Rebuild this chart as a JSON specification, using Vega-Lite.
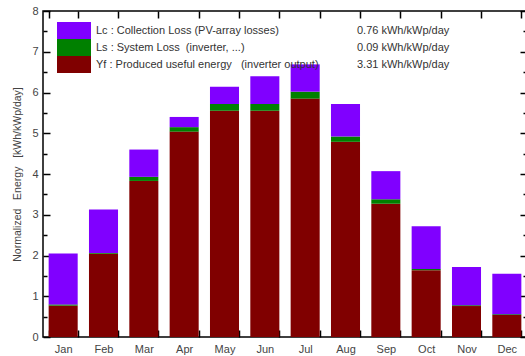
{
  "$schema": "https://vega.github.io/schema/vega-lite/v6.json",
  "width": 484,
  "height": 326,
  "autosize": {"type": "none"},
  "padding": {"left": 43, "top": 11, "right": 0, "bottom": 19},
  "background": "white",
  "config": {
    "view": {"stroke": "#000", "strokeWidth": 1.5},
    "font": "Liberation Sans",
    "axis": {
      "domain": false,
      "grid": false,
      "zindex": 1,
      "tickColor": "#000",
      "tickWidth": 1.5,
      "labelFont": "Liberation Sans",
      "labelFontSize": 11,
      "labelColor": "#444",
      "titleFont": "Liberation Sans",
      "titleFontSize": 10.5,
      "titleFontWeight": "normal",
      "titleColor": "#444"
    },
    "legend": {
      "title": null,
      "symbolType": "M-2,-1H2V1H-2Z",
      "symbolSize": 289,
      "symbolStrokeWidth": 0,
      "labelFont": "Liberation Sans",
      "labelFontSize": 11,
      "labelColor": "#333",
      "labelOffset": 13.5,
      "rowPadding": 0,
      "padding": 0,
      "labelLimit": 400
    }
  },
  "data": {
    "values": [
      {"month": "Jan", "comp": "Yf : Produced useful energy\u00a0\u00a0\u00a0(inverter output)", "avg": "3.31 kWh/kWp/day", "value": 0.77},
      {"month": "Jan", "comp": "Ls : System Loss\u00a0\u00a0(inverter, ...)", "avg": "0.09 kWh/kWp/day", "value": 0.03},
      {"month": "Jan", "comp": "Lc : Collection Loss (PV-array losses)", "avg": "0.76 kWh/kWp/day", "value": 1.25},
      {"month": "Feb", "comp": "Yf : Produced useful energy\u00a0\u00a0\u00a0(inverter output)", "avg": "3.31 kWh/kWp/day", "value": 2.04},
      {"month": "Feb", "comp": "Ls : System Loss\u00a0\u00a0(inverter, ...)", "avg": "0.09 kWh/kWp/day", "value": 0.02},
      {"month": "Feb", "comp": "Lc : Collection Loss (PV-array losses)", "avg": "0.76 kWh/kWp/day", "value": 1.07},
      {"month": "Mar", "comp": "Yf : Produced useful energy\u00a0\u00a0\u00a0(inverter output)", "avg": "3.31 kWh/kWp/day", "value": 3.83},
      {"month": "Mar", "comp": "Ls : System Loss\u00a0\u00a0(inverter, ...)", "avg": "0.09 kWh/kWp/day", "value": 0.10},
      {"month": "Mar", "comp": "Lc : Collection Loss (PV-array losses)", "avg": "0.76 kWh/kWp/day", "value": 0.67},
      {"month": "Apr", "comp": "Yf : Produced useful energy\u00a0\u00a0\u00a0(inverter output)", "avg": "3.31 kWh/kWp/day", "value": 5.04},
      {"month": "Apr", "comp": "Ls : System Loss\u00a0\u00a0(inverter, ...)", "avg": "0.09 kWh/kWp/day", "value": 0.11},
      {"month": "Apr", "comp": "Lc : Collection Loss (PV-array losses)", "avg": "0.76 kWh/kWp/day", "value": 0.25},
      {"month": "May", "comp": "Yf : Produced useful energy\u00a0\u00a0\u00a0(inverter output)", "avg": "3.31 kWh/kWp/day", "value": 5.55},
      {"month": "May", "comp": "Ls : System Loss\u00a0\u00a0(inverter, ...)", "avg": "0.09 kWh/kWp/day", "value": 0.17},
      {"month": "May", "comp": "Lc : Collection Loss (PV-array losses)", "avg": "0.76 kWh/kWp/day", "value": 0.42},
      {"month": "Jun", "comp": "Yf : Produced useful energy\u00a0\u00a0\u00a0(inverter output)", "avg": "3.31 kWh/kWp/day", "value": 5.55},
      {"month": "Jun", "comp": "Ls : System Loss\u00a0\u00a0(inverter, ...)", "avg": "0.09 kWh/kWp/day", "value": 0.17},
      {"month": "Jun", "comp": "Lc : Collection Loss (PV-array losses)", "avg": "0.76 kWh/kWp/day", "value": 0.68},
      {"month": "Jul", "comp": "Yf : Produced useful energy\u00a0\u00a0\u00a0(inverter output)", "avg": "3.31 kWh/kWp/day", "value": 5.85},
      {"month": "Jul", "comp": "Ls : System Loss\u00a0\u00a0(inverter, ...)", "avg": "0.09 kWh/kWp/day", "value": 0.17},
      {"month": "Jul", "comp": "Lc : Collection Loss (PV-array losses)", "avg": "0.76 kWh/kWp/day", "value": 0.67},
      {"month": "Aug", "comp": "Yf : Produced useful energy\u00a0\u00a0\u00a0(inverter output)", "avg": "3.31 kWh/kWp/day", "value": 4.79},
      {"month": "Aug", "comp": "Ls : System Loss\u00a0\u00a0(inverter, ...)", "avg": "0.09 kWh/kWp/day", "value": 0.13},
      {"month": "Aug", "comp": "Lc : Collection Loss (PV-array losses)", "avg": "0.76 kWh/kWp/day", "value": 0.80},
      {"month": "Sep", "comp": "Yf : Produced useful energy\u00a0\u00a0\u00a0(inverter output)", "avg": "3.31 kWh/kWp/day", "value": 3.27},
      {"month": "Sep", "comp": "Ls : System Loss\u00a0\u00a0(inverter, ...)", "avg": "0.09 kWh/kWp/day", "value": 0.11},
      {"month": "Sep", "comp": "Lc : Collection Loss (PV-array losses)", "avg": "0.76 kWh/kWp/day", "value": 0.69},
      {"month": "Oct", "comp": "Yf : Produced useful energy\u00a0\u00a0\u00a0(inverter output)", "avg": "3.31 kWh/kWp/day", "value": 1.64},
      {"month": "Oct", "comp": "Ls : System Loss\u00a0\u00a0(inverter, ...)", "avg": "0.09 kWh/kWp/day", "value": 0.03},
      {"month": "Oct", "comp": "Lc : Collection Loss (PV-array losses)", "avg": "0.76 kWh/kWp/day", "value": 1.05},
      {"month": "Nov", "comp": "Yf : Produced useful energy\u00a0\u00a0\u00a0(inverter output)", "avg": "3.31 kWh/kWp/day", "value": 0.76},
      {"month": "Nov", "comp": "Ls : System Loss\u00a0\u00a0(inverter, ...)", "avg": "0.09 kWh/kWp/day", "value": 0.02},
      {"month": "Nov", "comp": "Lc : Collection Loss (PV-array losses)", "avg": "0.76 kWh/kWp/day", "value": 0.94},
      {"month": "Dec", "comp": "Yf : Produced useful energy\u00a0\u00a0\u00a0(inverter output)", "avg": "3.31 kWh/kWp/day", "value": 0.54},
      {"month": "Dec", "comp": "Ls : System Loss\u00a0\u00a0(inverter, ...)", "avg": "0.09 kWh/kWp/day", "value": 0.02},
      {"month": "Dec", "comp": "Lc : Collection Loss (PV-array losses)", "avg": "0.76 kWh/kWp/day", "value": 0.99}
    ]
  },
  "layer": [
    {
      "mark": {"type": "bar"},
      "encoding": {
        "x": {
          "field": "month", "type": "ordinal",
          "sort": ["Jan","Feb","Mar","Apr","May","Jun","Jul","Aug","Sep","Oct","Nov","Dec"],
          "scale": {"paddingInner": 0.28, "paddingOuter": 0.14},
          "axis": {"orient": "bottom", "title": null, "labelAngle": 0, "tickBand": "extent", "tickSize": -7, "labelPadding": 13}
        },
        "y": {
          "field": "value", "type": "quantitative", "stack": "zero",
          "scale": {"domain": [0, 8], "nice": false},
          "axis": {"orient": "left", "values": [0,1,2,3,4,5,6,7,8], "tickSize": -7, "labelPadding": 12,
                   "title": "Normalized\u00a0\u00a0\u00a0Energy\u00a0\u00a0\u00a0[kWh/kWp/day]", "titlePadding": 9}
        },
        "color": {
          "field": "comp", "type": "nominal",
          "scale": {"domain": ["Lc : Collection Loss (PV-array losses)", "Ls : System Loss\u00a0\u00a0(inverter, ...)", "Yf : Produced useful energy\u00a0\u00a0\u00a0(inverter output)"],
                    "range": ["#8000ff", "#008000", "#800000"]},
          "legend": {"orient": "none", "legendX": 22.5, "legendY": 11}
        },
        "order": {"field": "comp", "sort": "descending"}
      }
    },
    {
      "mark": {"type": "bar", "opacity": 0},
      "encoding": {
        "x": {
          "field": "month", "type": "ordinal",
          "sort": ["Jan","Feb","Mar","Apr","May","Jun","Jul","Aug","Sep","Oct","Nov","Dec"],
          "axis": {"orient": "top", "title": null, "labels": false, "tickBand": "extent", "tickSize": -7}
        },
        "y": {
          "field": "value", "type": "quantitative", "stack": "zero",
          "axis": {"orient": "right", "title": null, "labels": false, "values": [0,1,2,3,4,5,6,7,8], "tickSize": -7}
        },
        "color": {
          "field": "avg", "type": "nominal",
          "scale": {"domain": ["0.76 kWh/kWp/day", "0.09 kWh/kWp/day", "3.31 kWh/kWp/day"], "range": ["#8000ff", "#008000", "#800000"]},
          "legend": {"orient": "none", "legendX": 283.5, "legendY": 11, "symbolOpacity": 0}
        },
        "order": {"field": "comp", "sort": "descending"}
      }
    },
    {
      "mark": {"type": "bar", "opacity": 0},
      "encoding": {
        "x": {"field": "month", "type": "ordinal", "sort": ["Jan","Feb","Mar","Apr","May","Jun","Jul","Aug","Sep","Oct","Nov","Dec"], "axis": null},
        "y": {
          "field": "value", "type": "quantitative", "stack": "zero",
          "axis": {"orient": "left", "title": null, "labels": false, "values": [0.5,1.5,2.5,3.5,4.5,5.5,6.5,7.5], "tickSize": -4}
        }
      }
    },
    {
      "mark": {"type": "bar", "opacity": 0},
      "encoding": {
        "x": {"field": "month", "type": "ordinal", "sort": ["Jan","Feb","Mar","Apr","May","Jun","Jul","Aug","Sep","Oct","Nov","Dec"], "axis": null},
        "y": {
          "field": "value", "type": "quantitative", "stack": "zero",
          "axis": {"orient": "right", "title": null, "labels": false, "values": [0.5,1.5,2.5,3.5,4.5,5.5,6.5,7.5], "tickSize": -4}
        }
      }
    }
  ],
  "resolve": {"axis": {"x": "independent", "y": "independent"}, "scale": {"color": "independent"}}
}
